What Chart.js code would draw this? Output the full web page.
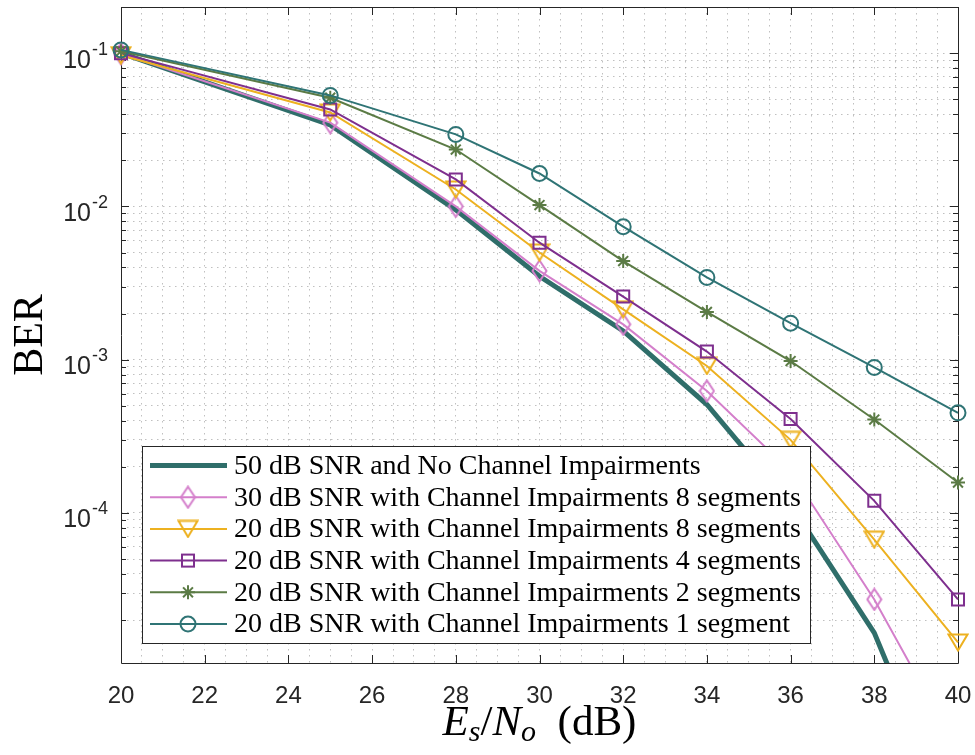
<!DOCTYPE html>
<html>
<head>
<meta charset="utf-8">
<script src="https://cdn.jsdelivr.net/npm/chart.js@4.4.0/dist/chart.umd.min.js"></script>
<style>
  html, body { margin: 0; padding: 0; background: #fff; }
  #wrap { width: 975px; height: 755px; }
</style>
</head>
<body>
<div id="wrap"><canvas id="berChart" width="975" height="755"></canvas></div>
<script>
// Es/No values (dB)
const snr = [20, 25, 28, 30, 32, 34, 36, 38, 40];

// BER curves
const noImpairments = [0.1, 0.034, 0.0095, 0.0035, 0.00154, 0.00051, 0.000114, 0.0000165, 0.0000008];
const snr30Seg8 = [0.099, 0.0352, 0.0100, 0.0038, 0.0017, 0.000625, 0.000187, 0.0000273, 0.0000028];
const snr20Seg8 = [0.097, 0.041, 0.0129, 0.0050, 0.00213, 0.00091, 0.00030, 0.000067, 0.0000143];
const snr20Seg4 = [0.100, 0.0429, 0.0150, 0.0058, 0.00258, 0.00113, 0.00041, 0.000120, 0.0000273];
const snr20Seg2 = [0.103, 0.0512, 0.0235, 0.0102, 0.0044, 0.00205, 0.00098, 0.000407, 0.000158];
const snr20Seg1 = [0.105, 0.053, 0.0295, 0.0164, 0.00738, 0.00344, 0.00173, 0.00089, 0.00045];

const xTickLabels = [20, 22, 24, 26, 28, 30, 32, 34, 36, 38, 40];
const yDecades = [-1, -2, -3, -4];

const legendLabels = [
    '50 dB SNR and No Channel Impairments',
    '30 dB SNR with Channel Impairments 8 segments',
    '20 dB SNR with Channel Impairments 8 segments',
    '20 dB SNR with Channel Impairments 4 segments',
    '20 dB SNR with Channel Impairments 2 segments',
    '20 dB SNR with Channel Impairments 1 segment'
];

const TEAL_THICK = '#2f6e6a';
const PINK = '#d47fcb';
const YELLOW = '#edb120';
const PURPLE = '#7e2f8e';
const GREEN = '#5b7b45';
const TEAL = '#2f7475';
const AXIS = '#262626';

// custom markers (MATLAB style diamond and down-triangle)
function markerCanvas(w, h, color, draw) {
    const c = document.createElement('canvas');
    c.width = w; c.height = h;
    const g = c.getContext('2d');
    g.strokeStyle = color;
    g.lineWidth = 2;
    g.lineJoin = 'miter';
    draw(g, w, h);
    return c;
}
const diamondMark = markerCanvas(17, 24, PINK, (g, w, h) => {
    g.beginPath();
    g.moveTo(w / 2, 1.5); g.lineTo(w - 1.5, h / 2); g.lineTo(w / 2, h - 1.5); g.lineTo(1.5, h / 2);
    g.closePath(); g.stroke();
});
const triDownMark = markerCanvas(22, 19, YELLOW, (g, w, h) => {
    g.beginPath();
    g.moveTo(1.5, 1.5); g.lineTo(w - 1.5, 1.5); g.lineTo(w / 2, h - 1.5);
    g.closePath(); g.stroke();
});

function series(label, values, color, width, style, radius, order) {
    return {
        label: label,
        data: snr.map((x, i) => ({ x: x, y: values[i] })),
        borderColor: color,
        backgroundColor: 'rgba(0,0,0,0)',
        borderWidth: width,
        pointStyle: style,
        pointRadius: radius,
        pointBorderColor: color,
        pointBackgroundColor: 'rgba(0,0,0,0)',
        pointBorderWidth: 2,
        tension: 0,
        order: order,
        clip: { left: 14, right: 14, top: 14, bottom: 0 }
    };
}

function drawLegendMarker(ctx, ds, x, y) {
    const st = ds.pointStyle;
    ctx.save();
    ctx.strokeStyle = ds.pointBorderColor;
    ctx.lineWidth = 2;
    if (st instanceof HTMLCanvasElement) {
        ctx.drawImage(st, x - st.width / 2, y - st.height / 2);
    } else if (st === 'rect') {
        const s = ds.pointRadius * Math.SQRT1_2;
        ctx.strokeRect(x - s, y - s, 2 * s, 2 * s);
    } else if (st === 'circle') {
        ctx.beginPath(); ctx.arc(x, y, ds.pointRadius, 0, Math.PI * 2); ctx.stroke();
    } else if (st === 'star') {
        const r = ds.pointRadius, d = r * Math.SQRT1_2;
        ctx.beginPath();
        ctx.moveTo(x - r, y); ctx.lineTo(x + r, y);
        ctx.moveTo(x, y - r); ctx.lineTo(x, y + r);
        ctx.moveTo(x - d, y - d); ctx.lineTo(x + d, y + d);
        ctx.moveTo(x - d, y + d); ctx.lineTo(x + d, y - d);
        ctx.stroke();
    }
    ctx.restore();
}

// box, inward ticks, tick labels, axis titles
const axesPlugin = {
    id: 'matlabAxes',
    beforeDatasetsDraw(chart) {
        const ctx = chart.ctx, a = chart.chartArea;
        const xs = chart.scales.x, ys = chart.scales.y;
        ctx.save();
        ctx.strokeStyle = AXIS;
        ctx.lineWidth = 1;
        ctx.beginPath();
        ctx.rect(Math.round(a.left) + 0.5, Math.round(a.top) + 0.5,
            Math.round(a.right - a.left), Math.round(a.bottom - a.top));
        ctx.stroke();
        ctx.beginPath();
        xTickLabels.forEach(v => {
            const px = Math.round(xs.getPixelForValue(v)) + 0.5;
            ctx.moveTo(px, a.bottom); ctx.lineTo(px, a.bottom - 8);
            ctx.moveTo(px, a.top); ctx.lineTo(px, a.top + 8);
        });
        ys.ticks.forEach(t => {
            const e = Math.log10(t.value);
            const major = Math.abs(e - Math.round(e)) < 1e-9;
            const len = major ? 8 : 5;
            const py = Math.round(ys.getPixelForValue(t.value)) + 0.5;
            ctx.moveTo(a.left, py); ctx.lineTo(a.left + len, py);
            ctx.moveTo(a.right, py); ctx.lineTo(a.right - len, py);
        });
        ctx.stroke();
        ctx.restore();
    },
    afterDraw(chart) {
        const ctx = chart.ctx, a = chart.chartArea;
        const xs = chart.scales.x, ys = chart.scales.y;
        ctx.save();
        ctx.fillStyle = AXIS;
        ctx.font = '24px "Liberation Sans", Arial, sans-serif';
        ctx.textAlign = 'center';
        ctx.textBaseline = 'alphabetic';
        xTickLabels.forEach(v => {
            ctx.fillText(String(v), xs.getPixelForValue(v), a.bottom + 40);
        });
        // y decade labels 10^k
        yDecades.forEach(k => {
            const py = ys.getPixelForValue(Math.pow(10, k));
            ctx.textAlign = 'right';
            ctx.font = '18px "Liberation Sans", Arial, sans-serif';
            const sup = String(k);
            const supW = ctx.measureText(sup).width;
            ctx.fillText(sup, 108, py + 1.5);
            ctx.font = '25px "Liberation Sans", Arial, sans-serif';
            ctx.fillText('10', 108 - supW - 1, py + 14.5);
        });
        // y title
        ctx.fillStyle = '#000';
        ctx.save();
        ctx.translate(42, (a.top + a.bottom) / 2);
        ctx.rotate(-Math.PI / 2);
        ctx.textAlign = 'center';
        ctx.font = '42px "Liberation Serif", "Times New Roman", serif';
        ctx.fillText('BER', 0, 0);
        ctx.restore();
        // x title: E_s / N_o (dB)
        const F = 43;
        const parts = [
            { t: 'E', f: 'italic ' + F + 'px', dy: 0 },
            { t: 's', f: 'italic ' + Math.round(F * 0.7) + 'px', dy: F * 0.14 },
            { t: '/', f: F + 'px', dy: 0 },
            { t: 'N', f: 'italic ' + F + 'px', dy: 0 },
            { t: 'o', f: 'italic ' + Math.round(F * 0.7) + 'px', dy: F * 0.14 },
            { t: '  (dB)', f: F + 'px', dy: 0 }
        ];
        const fam = ' "Liberation Serif", "Times New Roman", serif';
        let total = 0;
        parts.forEach(p => { ctx.font = p.f + fam; p.w = ctx.measureText(p.t).width; total += p.w; });
        let x = (a.left + a.right) / 2 - total / 2;
        ctx.textAlign = 'left';
        parts.forEach(p => {
            ctx.font = p.f + fam;
            ctx.fillText(p.t, x, 735 + p.dy);
            x += p.w;
        });
        ctx.restore();
    }
};

// boxed legend inside the axes, lower left
const legendPlugin = {
    id: 'boxLegend',
    afterDatasetsDraw(chart) {
        const ctx = chart.ctx, a = chart.chartArea;
        const bx = a.left + 21, by = 446, bw = 668, bh = 197;
        ctx.save();
        ctx.fillStyle = '#fff';
        ctx.fillRect(bx, by, bw, bh);
        ctx.strokeStyle = AXIS;
        ctx.lineWidth = 1;
        ctx.strokeRect(bx + 0.5, by + 0.5, bw, bh);
        // size the serif font so the longest entry fits like the original
        const fam = '"Liberation Serif", "Times New Roman", serif';
        ctx.font = '20px ' + fam;
        const longest = Math.max(...legendLabels.map(s => ctx.measureText(s).width));
        const fs = Math.min(28, 20 * 566 / longest);
        const sorted = chart.data.datasets.slice().sort((p, q) => legendLabels.indexOf(p.label) - legendLabels.indexOf(q.label));
        sorted.forEach((ds, i) => {
            const y = by + 19.5 + i * 31.7;
            ctx.strokeStyle = ds.borderColor;
            ctx.lineWidth = ds.borderWidth;
            ctx.beginPath();
            ctx.moveTo(bx + 8, y); ctx.lineTo(bx + 85, y);
            ctx.stroke();
            drawLegendMarker(ctx, ds, bx + 46, y);
            ctx.fillStyle = '#000';
            ctx.font = fs.toFixed(1) + 'px ' + fam;
            ctx.textBaseline = 'middle';
            ctx.textAlign = 'left';
            ctx.fillText(ds.label, bx + 92, y + 1);
        });
        ctx.restore();
    }
};

const ctx = document.getElementById('berChart').getContext('2d');
new Chart(ctx, {
    type: 'line',
    data: {
        datasets: [
            series(legendLabels[0], noImpairments, TEAL_THICK, 5, 'circle', 0, 6),
            series(legendLabels[1], snr30Seg8, PINK, 2, diamondMark, 9, 5),
            series(legendLabels[2], snr20Seg8, YELLOW, 2, triDownMark, 9, 4),
            series(legendLabels[3], snr20Seg4, PURPLE, 2, 'rect', 8.5, 3),
            series(legendLabels[4], snr20Seg2, GREEN, 2, 'star', 7, 2),
            series(legendLabels[5], snr20Seg1, TEAL, 2, 'circle', 7.5, 1)
        ]
    },
    options: {
        responsive: false,
        animation: false,
        devicePixelRatio: 1,
        layout: { autoPadding: false, padding: { top: 7, right: 17, left: 0, bottom: 0 } },
        plugins: {
            legend: { display: false },
            tooltip: { enabled: false }
        },
        scales: {
            x: {
                type: 'linear',
                min: 20,
                max: 40,
                afterBuildTicks: s => {
                    const t = [];
                    for (let v = 20; v <= 40; v += 0.5) t.push({ value: v });
                    s.ticks = t;
                },
                ticks: { display: false },
                grid: { color: 'rgba(140,140,140,0.55)', lineWidth: 1, drawTicks: false },
                border: { display: false, dash: [1.5, 4.5] },
                afterFit: s => { s.height = 92; }
            },
            y: {
                type: 'logarithmic',
                min: 1.05e-5,
                max: 0.2,
                afterBuildTicks: s => {
                    const t = [];
                    for (let e = -5; e <= -1; e++) {
                        for (let m = 1; m <= 9; m++) {
                            const v = m * Math.pow(10, e);
                            if (v >= s.min && v <= s.max * 1.0001) t.push({ value: v });
                        }
                    }
                    s.ticks = t;
                },
                ticks: { display: false },
                grid: { color: 'rgba(140,140,140,0.55)', lineWidth: 1, drawTicks: false },
                border: { display: false, dash: [1.5, 4.5] },
                afterFit: s => { s.width = 121; }
            }
        }
    },
    plugins: [axesPlugin, legendPlugin]
});
</script>
</body>
</html>
